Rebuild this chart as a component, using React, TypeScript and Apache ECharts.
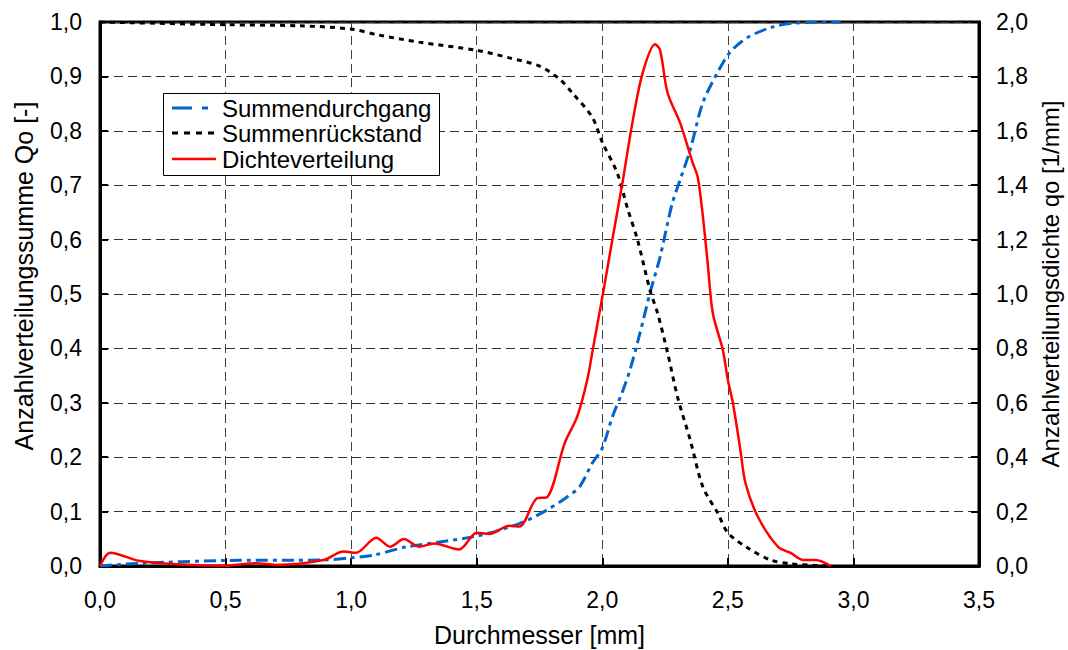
import React, { useEffect, useRef } from "react";
import * as echarts from "echarts";

// Summendurchgang (left axis, Qo [-])
const durchgangX = [0, 0.16, 0.49, 0.89, 1.0, 1.09, 1.22, 1.5, 1.67, 1.78, 1.86, 1.91, 1.96, 2.0, 2.04, 2.08, 2.11, 2.15, 2.19, 2.23, 2.26, 2.28, 2.31, 2.35, 2.4, 2.46, 2.51, 2.58, 2.68, 2.76, 2.95];
const durchgangY = [0, 0.005, 0.01, 0.011, 0.015, 0.02, 0.035, 0.055, 0.078, 0.103, 0.127, 0.146, 0.189, 0.217, 0.274, 0.32, 0.36, 0.428, 0.502, 0.568, 0.63, 0.669, 0.71, 0.765, 0.851, 0.908, 0.945, 0.972, 0.991, 0.998, 1.0];

// Summenrückstand (left axis)
const rueckstandX = [0, 0.5, 0.8, 1.0, 1.11, 1.27, 1.5, 1.63, 1.75, 1.83, 1.88, 1.96, 2.0, 2.06, 2.1, 2.14, 2.19, 2.22, 2.26, 2.3, 2.35, 2.4, 2.46, 2.5, 2.58, 2.67, 2.75, 2.85, 2.9];
const rueckstandY = [1.0, 0.995, 0.993, 0.987, 0.976, 0.963, 0.948, 0.934, 0.919, 0.895, 0.87, 0.825, 0.779, 0.722, 0.658, 0.6, 0.507, 0.465, 0.392, 0.31, 0.232, 0.146, 0.097, 0.061, 0.033, 0.011, 0.004, 0.001, 0];

// Dichteverteilung (right axis, qo [1/mm])
const dichteX = [0, 0.04, 0.16, 0.29, 0.49, 0.62, 0.7, 0.89, 0.97, 1.02, 1.1, 1.155, 1.21, 1.27, 1.33, 1.43, 1.5, 1.55, 1.63, 1.67, 1.74, 1.78, 1.85, 1.9, 1.94, 1.963, 2.003, 2.04, 2.08, 2.12, 2.16, 2.21, 2.23, 2.26, 2.31, 2.36, 2.38, 2.4, 2.42, 2.44, 2.48, 2.5, 2.52, 2.55, 2.57, 2.62, 2.7, 2.75, 2.8, 2.85, 2.91];
const dichteY = [0, 0.049, 0.018, 0.007, 0.001, 0.01, 0.004, 0.022, 0.053, 0.049, 0.104, 0.071, 0.099, 0.071, 0.083, 0.061, 0.122, 0.118, 0.148, 0.145, 0.249, 0.253, 0.451, 0.549, 0.684, 0.8, 1.003, 1.199, 1.407, 1.63, 1.81, 1.918, 1.897, 1.739, 1.629, 1.482, 1.43, 1.29, 1.11, 0.93, 0.794, 0.684, 0.6, 0.426, 0.305, 0.18, 0.07, 0.048, 0.022, 0.022, 0];

const seriesNames = ["Summendurchgang", "Summenrückstand", "Dichteverteilung"];
const seriesColors = ["#0066CC", "#000000", "#FF0000"];
const seriesDash: (number[] | null)[] = [[12, 5, 4, 5], [5, 5], null];
const xAxisName = "Durchmesser [mm]";
const leftAxisName = "Anzahlverteilungssumme Qo [-]";
const rightAxisName = "Anzahlverteilungsdichte qo [1/mm]";

const zip = (xs: number[], ys: number[]) => xs.map((x, i) => [x, ys[i]]);
const fmt = (v: number) => v.toFixed(1).replace(".", ",");

const FONT = "Liberation Sans";

export default function App() {
  const ref = useRef<HTMLDivElement>(null);
  useEffect(() => {
    if (!ref.current) return;
    const chart = echarts.init(ref.current, null, { renderer: "svg" });
    const axisLabel = { color: "#000", fontSize: 23, fontFamily: FONT };
    const nameStyle = { color: "#000", fontSize: 25, fontFamily: FONT };

    // legend drawn as a framed box
    const lgX = 163, lgY = 93, lgW = 276, lgH = 82;
    const rowY = [108, 133, 159];
    const legendEls: any[] = [
      {
        type: "rect",
        shape: { x: lgX + 0.5, y: lgY + 0.5, width: lgW, height: lgH },
        style: { fill: "#fff", stroke: "#000", lineWidth: 1 },
        z: 100,
      },
    ];
    seriesNames.forEach((n, i) => {
      legendEls.push({
        type: "line",
        shape: { x1: 172, y1: rowY[i], x2: 216, y2: rowY[i] },
        style: {
          stroke: seriesColors[i],
          lineWidth: i === 2 ? 2.5 : 3,
          lineDash: seriesDash[i] ? (i === 0 ? [20, 10, 6, 10] : [6, 6]) : null,
        },
        z: 101,
      });
      legendEls.push({
        type: "text",
        x: 222,
        y: rowY[i],
        style: {
          text: n,
          fill: "#000",
          fontSize: 24,
          fontFamily: FONT,
          verticalAlign: "middle",
          align: "left",
        },
        z: 101,
      });
    });

    chart.setOption({
      animation: false,
      backgroundColor: "#fff",
      grid: {
        left: 100,
        right: 89,
        top: 22,
        bottom: 84,
        containLabel: false,
        outerBoundsMode: "none",
        show: true,
        borderColor: "#000",
        borderWidth: 3,
        backgroundColor: "transparent",
      },
      graphic: legendEls,
      xAxis: {
        type: "value",
        min: 0,
        max: 3.5,
        interval: 0.5,
        name: xAxisName,
        nameLocation: "middle",
        nameGap: 56,
        nameTextStyle: nameStyle,
        axisLine: { show: true, lineStyle: { color: "#000", width: 3 } },
        axisTick: { show: true, inside: true, length: 8, lineStyle: { color: "#000", width: 2 } },
        axisLabel: { ...axisLabel, margin: 22, formatter: fmt },
        splitLine: { show: true, lineStyle: { color: "#404040", width: 1, type: [9, 5] } },
      },
      yAxis: [
        {
          type: "value",
          min: 0,
          max: 1,
          interval: 0.1,
          position: "left",
          name: leftAxisName,
          nameLocation: "middle",
          nameRotate: 90,
          nameGap: 64,
          nameTextStyle: { ...nameStyle, padding: [0, 0, 0, 36] },
          axisLine: { show: true, lineStyle: { color: "#000", width: 3 } },
          axisTick: { show: true, inside: true, length: 8, lineStyle: { color: "#000", width: 2 } },
          axisLabel: { ...axisLabel, margin: 18, formatter: fmt },
          splitLine: { show: true, lineStyle: { color: "#303030", width: 1, type: [9, 5] } },
        },
        {
          type: "value",
          min: 0,
          max: 2,
          interval: 0.2,
          position: "right",
          name: rightAxisName,
          nameLocation: "middle",
          nameRotate: 90,
          nameGap: 59,
          nameTextStyle: { ...nameStyle, fontSize: 24, padding: [0, 0, 0, 20] },
          axisLine: { show: true, lineStyle: { color: "#000", width: 3 } },
          axisTick: { show: true, inside: true, length: 8, lineStyle: { color: "#000", width: 2 } },
          axisLabel: { ...axisLabel, margin: 17, formatter: fmt },
          splitLine: { show: false },
        },
      ],
      series: [
        {
          name: seriesNames[0],
          type: "line",
          yAxisIndex: 0,
          data: zip(durchgangX, durchgangY),
          showSymbol: false,
          symbol: "none",
          smooth: 0.3,
          color: seriesColors[0],
          lineStyle: { color: seriesColors[0], width: 3, type: seriesDash[0] },
          z: 3,
        },
        {
          name: seriesNames[1],
          type: "line",
          yAxisIndex: 0,
          data: zip(rueckstandX, rueckstandY),
          showSymbol: false,
          symbol: "none",
          smooth: 0.3,
          color: seriesColors[1],
          lineStyle: { color: seriesColors[1], width: 3, type: seriesDash[1] },
          z: 3,
        },
        {
          name: seriesNames[2],
          type: "line",
          yAxisIndex: 1,
          data: zip(dichteX, dichteY),
          showSymbol: false,
          symbol: "none",
          smooth: 0.3,
          color: seriesColors[2],
          lineStyle: { color: seriesColors[2], width: 2.5, type: "solid" },
          z: 4,
        },
      ],
    });
    return () => chart.dispose();
  }, []);
  return (
    <div
      ref={ref}
      style={{ position: "fixed", left: 0, top: 0, width: 1068, height: 650, background: "#fff" }}
    />
  );
}
